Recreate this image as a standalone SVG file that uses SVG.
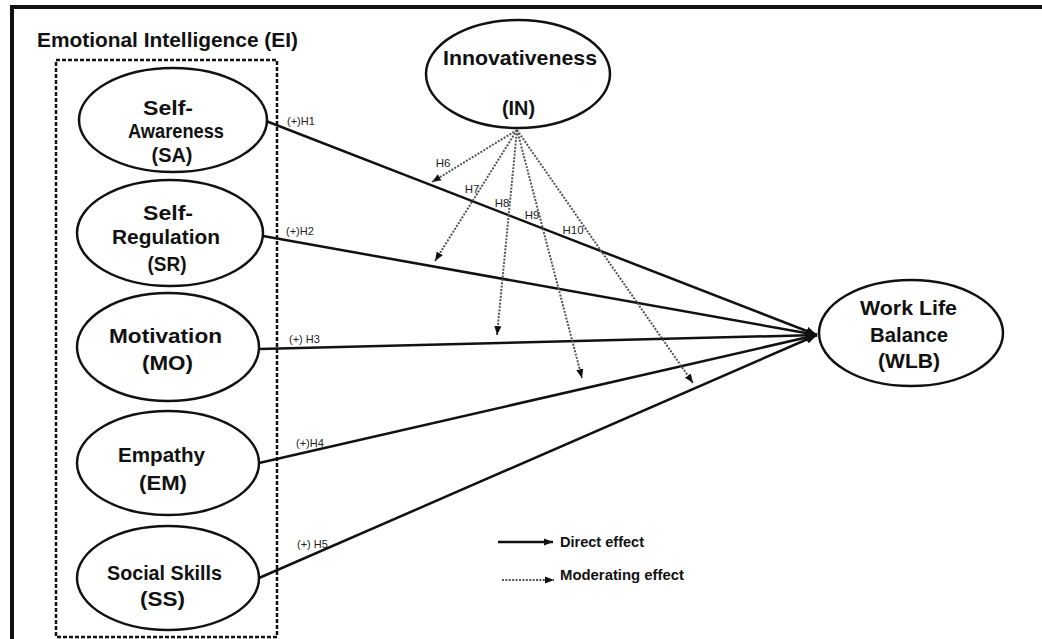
<svg xmlns="http://www.w3.org/2000/svg" width="1042" height="639" viewBox="0 0 1042 639">
<defs>
<style>
.node{fill:#fff;stroke:#111;stroke-width:2.5}
.nt{font-family:"Liberation Sans",Arial,sans-serif;font-weight:bold;font-size:21px;fill:#111;text-anchor:middle}
.title{font-family:"Liberation Sans",Arial,sans-serif;font-weight:bold;font-size:21px;fill:#111;text-anchor:start}
.lbl{font-family:"Liberation Sans",Arial,sans-serif;font-size:11px;fill:#222}
.hl{font-family:"Liberation Sans",Arial,sans-serif;font-size:11.5px;fill:#222;text-anchor:middle}
.leg{font-family:"Liberation Sans",Arial,sans-serif;font-weight:bold;font-size:15px;fill:#111}
.direct{fill:none;stroke:#111;stroke-width:2.5}
.mod{fill:none;stroke:#555;stroke-width:2;stroke-dasharray:2 1.4}
</style>
<marker id="ah" viewBox="0 0 10 8" refX="10" refY="4" markerWidth="11" markerHeight="9" markerUnits="userSpaceOnUse" orient="auto">
<path d="M0,0 L10,4 L0,8 z" fill="#111"/>
</marker>
<marker id="am" viewBox="0 0 10 8" refX="10" refY="4" markerWidth="9" markerHeight="8" markerUnits="userSpaceOnUse" orient="auto">
<path d="M0,0 L10,4 L0,8 z" fill="#111"/>
</marker>
</defs>
<rect width="1042" height="639" fill="#fff"/>
<g id="frame">
<line x1="10" y1="7" x2="1042" y2="7" stroke="#111" stroke-width="4"/>
<line x1="12" y1="5" x2="12" y2="639" stroke="#111" stroke-width="4"/>
</g>
<g id="ei-group">
<text class="title" x="37" y="47" textLength="261" lengthAdjust="spacingAndGlyphs">Emotional Intelligence (EI)</text>
<rect x="56" y="60" width="221" height="577" fill="none" stroke="#111" stroke-width="2.5" stroke-dasharray="4 2"/>
</g>
<g id="connectors">
<line class="direct" x1="266" y1="121" x2="817" y2="335" marker-end="url(#ah)"/>
<line class="direct" x1="263" y1="236" x2="817" y2="335" marker-end="url(#ah)"/>
<line class="direct" x1="259" y1="349" x2="817" y2="335" marker-end="url(#ah)"/>
<line class="direct" x1="259" y1="463" x2="817" y2="335" marker-end="url(#ah)"/>
<line class="direct" x1="259" y1="578" x2="817" y2="335" marker-end="url(#ah)"/>
<line class="mod" x1="517" y1="130" x2="432" y2="182" marker-end="url(#am)"/>
<line class="mod" x1="517" y1="130" x2="435" y2="261" marker-end="url(#am)"/>
<line class="mod" x1="517" y1="130" x2="497" y2="335" marker-end="url(#am)"/>
<line class="mod" x1="517" y1="130" x2="582" y2="378" marker-end="url(#am)"/>
<line class="mod" x1="517" y1="130" x2="693" y2="383" marker-end="url(#am)"/>
<text class="lbl" x="287" y="125">(+)H1</text>
<text class="lbl" x="286" y="235">(+)H2</text>
<text class="lbl" x="289" y="343">(+) H3</text>
<text class="lbl" x="296" y="447">(+)H4</text>
<text class="lbl" x="297" y="548">(+) H5</text>
<text class="hl" x="443" y="167">H6</text>
<text class="hl" x="472" y="193">H7</text>
<text class="hl" x="502" y="207">H8</text>
<text class="hl" x="532" y="219">H9</text>
<text class="hl" x="573" y="234">H10</text>
</g>
<g id="node-sa">
<ellipse class="node" cx="173" cy="120" rx="94" ry="52"/>
<text class="nt" x="168" y="115" textLength="50" lengthAdjust="spacingAndGlyphs">Self-</text>
<text class="nt" x="176" y="138" textLength="96" lengthAdjust="spacingAndGlyphs">Awareness</text>
<text class="nt" x="172" y="162" textLength="41" lengthAdjust="spacingAndGlyphs">(SA)</text>
</g>
<g id="node-sr">
<ellipse class="node" cx="170" cy="233" rx="93" ry="53"/>
<text class="nt" x="168" y="220" textLength="50" lengthAdjust="spacingAndGlyphs">Self-</text>
<text class="nt" x="166" y="244" textLength="108" lengthAdjust="spacingAndGlyphs">Regulation</text>
<text class="nt" x="167" y="271" textLength="39" lengthAdjust="spacingAndGlyphs">(SR)</text>
</g>
<g id="node-mo">
<ellipse class="node" cx="168" cy="347" rx="91" ry="54"/>
<text class="nt" x="165.5" y="343" textLength="113" lengthAdjust="spacingAndGlyphs">Motivation</text>
<text class="nt" x="167.5" y="370" textLength="51" lengthAdjust="spacingAndGlyphs">(MO)</text>
</g>
<g id="node-em">
<ellipse class="node" cx="168" cy="463" rx="91" ry="52"/>
<text class="nt" x="161.5" y="462" textLength="87" lengthAdjust="spacingAndGlyphs">Empathy</text>
<text class="nt" x="163" y="490" textLength="48" lengthAdjust="spacingAndGlyphs">(EM)</text>
</g>
<g id="node-ss">
<ellipse class="node" cx="168" cy="578" rx="91" ry="52"/>
<text class="nt" x="164.5" y="580" textLength="115" lengthAdjust="spacingAndGlyphs">Social Skills</text>
<text class="nt" x="162.5" y="606" textLength="45" lengthAdjust="spacingAndGlyphs">(SS)</text>
</g>
<g id="node-in">
<ellipse class="node" cx="518" cy="74" rx="92" ry="54"/>
<text class="nt" x="520" y="65" font-size="22" textLength="154" lengthAdjust="spacingAndGlyphs">Innovativeness</text>
<text class="nt" x="518.5" y="115" font-size="22" textLength="33" lengthAdjust="spacingAndGlyphs">(IN)</text>
</g>
<g id="node-wlb">
<ellipse class="node" cx="911" cy="333" rx="92" ry="53"/>
<text class="nt" x="908.5" y="315" textLength="97" lengthAdjust="spacingAndGlyphs">Work Life</text>
<text class="nt" x="909" y="342" textLength="78" lengthAdjust="spacingAndGlyphs">Balance</text>
<text class="nt" x="909" y="368" textLength="62" lengthAdjust="spacingAndGlyphs">(WLB)</text>
</g>
<g id="legend">
<line class="direct" x1="498" y1="542" x2="553" y2="542" stroke-width="2" marker-end="url(#am)"/>
<text class="leg" x="560" y="547" textLength="84" lengthAdjust="spacingAndGlyphs">Direct effect</text>
<line class="mod" x1="502" y1="580" x2="554" y2="580" stroke-width="1.5" marker-end="url(#am)"/>
<text class="leg" x="560" y="580" textLength="124" lengthAdjust="spacingAndGlyphs">Moderating effect</text>
</g>
</svg>
